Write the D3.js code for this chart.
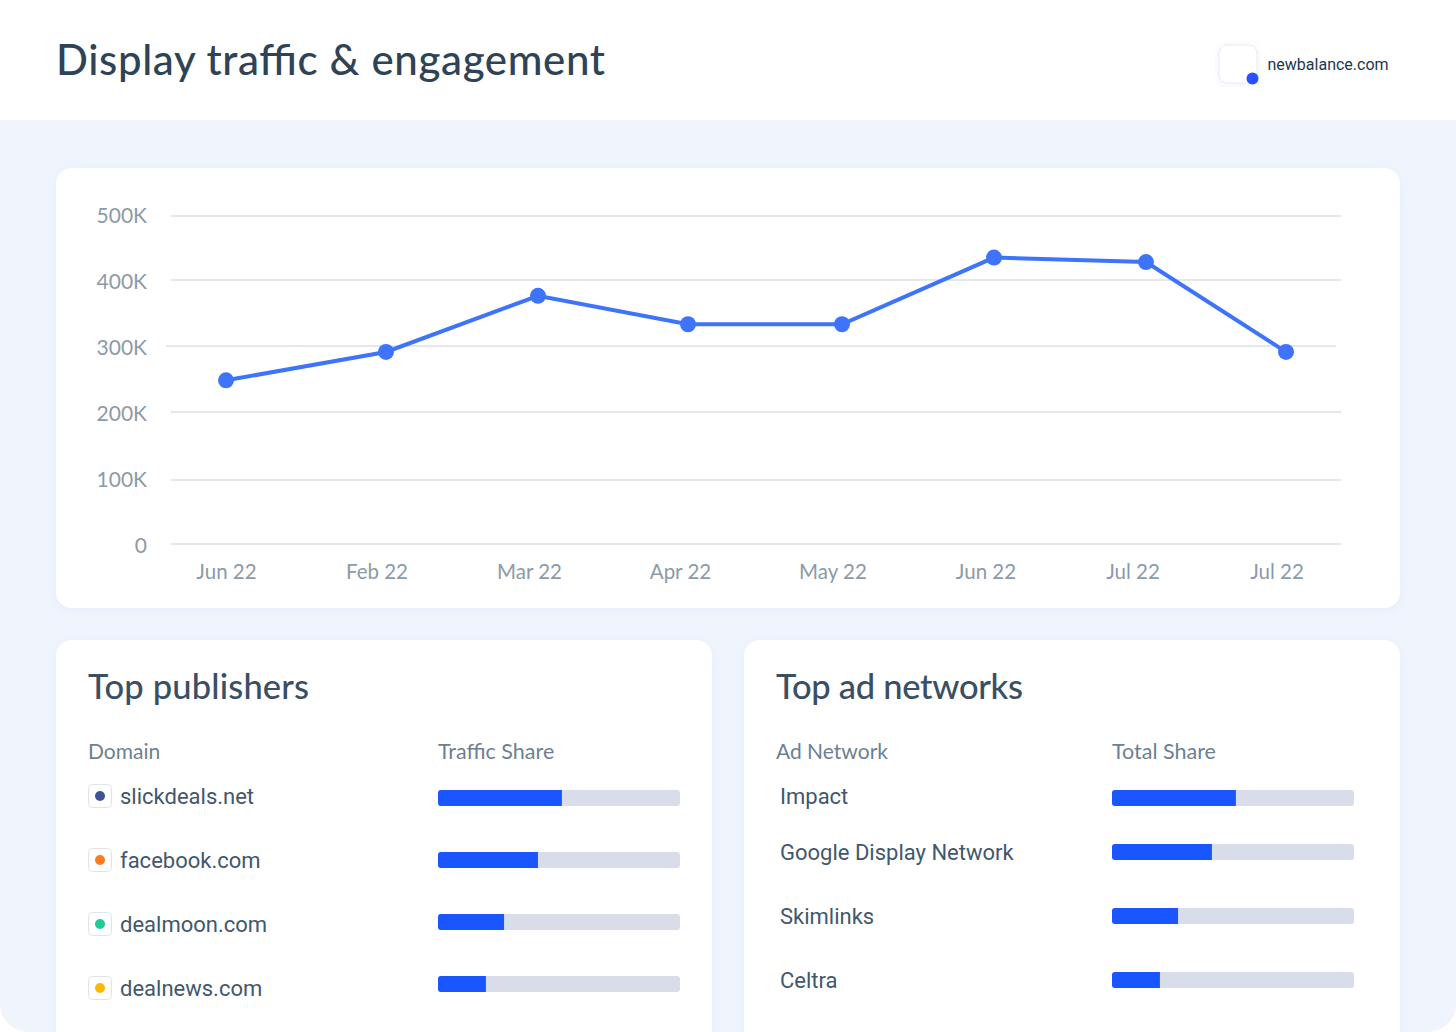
<!DOCTYPE html>
<html>
<head>
<meta charset="utf-8">
<script src="https://cdn.jsdelivr.net/npm/d3@7"></script>
<style>
  html, body { margin: 0; padding: 0; background: #fff; overflow: hidden; }
  svg { display: block; }
  text { font-family: Lato, sans-serif; }
  .body-font { font-family: Roboto, sans-serif; }
</style>
</head>
<body>
<svg id="chart" width="1456" height="1032"></svg>
<script>
const months = ['Jun 22', 'Feb 22', 'Mar 22', 'Apr 22', 'May 22', 'Jun 22', 'Jul 22', 'Jul 22'];
const visits = [248000, 291000, 376000, 333000, 333000, 435000, 428000, 291000];
const yTicks = [0, 100000, 200000, 300000, 400000, 500000];
const yTickLabels = ['0', '100K', '200K', '300K', '400K', '500K'];

const publishers = ['slickdeals.net', 'facebook.com', 'dealmoon.com', 'dealnews.com'];
const publisherShare = [51.2, 41.3, 27.3, 19.8];
const publisherDots = ['#3f5496', '#ff7a20', '#1fcb97', '#ffb703'];

const networks = ['Impact', 'Google Display Network', 'Skimlinks', 'Celtra'];
const networkShare = [51.2, 41.3, 27.3, 19.8];

const svg = d3.select('#chart');

const textDark = '#2f4356';
const textPanel = '#3a4f63';
const textBody = '#42576d';
const textMuted = '#6d7f92';
const tickGrey = '#8c9aa8';
const blue = '#3d74fb';
const barBlue = '#1a56ff';

const defs = svg.append('defs');
const shadow = defs.append('filter').attr('id', 'soft')
  .attr('x', '-10%').attr('y', '-10%').attr('width', '120%').attr('height', '120%');
shadow.append('feDropShadow').attr('dx', 0).attr('dy', 2).attr('stdDeviation', 7)
  .attr('flood-color', '#c9d6f2').attr('flood-opacity', 0.3);

// page background
svg.append('rect').attr('width', 1456).attr('height', 1032).attr('fill', '#fff');
svg.append('path')
  .attr('d', 'M0,120H1456V1004A28,28 0 0 1 1428,1032H28A28,28 0 0 1 0,1004Z')
  .attr('fill', '#f0f5fd');

// header
svg.append('text').attr('x', 56).attr('y', 75)
  .attr('font-size', 42).attr('font-weight', 500).attr('fill', textDark)
  .attr('textLength', 549)
  .text('Display traffic & engagement');

svg.append('rect').attr('x', 1219).attr('y', 45).attr('width', 38).attr('height', 38).attr('rx', 8)
  .attr('fill', '#fff').attr('stroke', '#e8ebf1').attr('stroke-width', 1)
  .attr('filter', 'url(#soft)');
svg.append('circle').attr('cx', 1252.5).attr('cy', 78.5).attr('r', 6).attr('fill', '#2b50ff');
svg.append('text').attr('class', 'body-font').attr('x', 1267.5).attr('y', 70)
  .attr('font-size', 16).attr('fill', '#22374f').text('newbalance.com');

// cards
svg.append('g').selectAll('rect')
  .data([[56, 168, 1344, 440], [56, 640, 656, 420], [744, 640, 656, 420]])
  .join('rect')
  .attr('x', d => d[0]).attr('y', d => d[1])
  .attr('width', d => d[2]).attr('height', d => d[3])
  .attr('rx', 16).attr('fill', '#fff').attr('filter', 'url(#soft)');

// line chart: the source axis is slightly uneven, so each tick gets its own stop
const y = d3.scaleLinear().domain(yTicks).range([544, 480, 412, 346, 280, 216]);
const yLabel = d3.scaleLinear().domain([0, 500000]).range([545, 215]);
const x = d3.scaleLinear().domain(d3.range(months.length))
  .range([226, 386, 538, 688, 842, 994, 1146, 1286]);
const xLabel = d3.scaleLinear().domain(d3.range(months.length))
  .range([226.5, 377, 529.5, 680.5, 833, 986, 1133, 1277]);

svg.append('g').selectAll('line').data(yTicks).join('line')
  .attr('x1', d => d === 300000 ? 166 : 171)
  .attr('x2', d => d === 300000 ? 1336 : 1341)
  .attr('y1', d => y(d)).attr('y2', d => y(d))
  .attr('stroke', '#e4e8ed').attr('stroke-width', 2);

svg.append('g').selectAll('text').data(yTicks).join('text')
  .attr('x', 147).attr('y', d => yLabel(d) + 7.5)
  .attr('text-anchor', 'end').attr('font-size', 21).attr('fill', tickGrey)
  .text((d, i) => yTickLabels[i]);

svg.append('g').selectAll('text').data(months).join('text')
  .attr('x', (d, i) => xLabel(i)).attr('y', 578.5)
  .attr('text-anchor', 'middle').attr('font-size', 20.5).attr('fill', tickGrey)
  .text(d => d);

const line = d3.line().x((d, i) => x(i)).y(d => y(d));
svg.append('path').datum(visits).attr('d', line)
  .attr('fill', 'none').attr('stroke', blue).attr('stroke-width', 4);
svg.append('g').selectAll('circle').data(visits).join('circle')
  .attr('cx', (d, i) => x(i)).attr('cy', d => y(d)).attr('r', 8).attr('fill', blue);

// bottom panels
function panel(opts) {
  const g = svg.append('g');
  g.append('text').attr('x', opts.left).attr('y', 699)
    .attr('font-size', 34.5).attr('font-weight', 500).attr('fill', textPanel)
    .attr('textLength', opts.titleLen)
    .text(opts.title);
  g.append('text').attr('x', opts.left).attr('y', 758.5)
    .attr('font-size', 21).attr('fill', textMuted).text(opts.col1);
  g.append('text').attr('x', opts.barX).attr('y', 758.5)
    .attr('font-size', 21.5).attr('fill', textMuted).text(opts.col2);

  const w = d3.scaleLinear().domain([0, 100]).range([0, 242]);

  g.append('g').selectAll('rect').data(opts.share).join('rect')
    .attr('x', opts.barX).attr('y', (d, i) => opts.barY[i])
    .attr('width', w(100)).attr('height', 16).attr('rx', 3).attr('fill', '#d9dde9');
  g.append('g').selectAll('path').data(opts.share).join('path')
    .attr('d', (d, i) => `M${opts.barX + 3},${opts.barY[i]}H${opts.barX + w(d)}v16H${opts.barX + 3}a3,3 0 0 1 -3,-3v-10a3,3 0 0 1 3,-3Z`)
    .attr('fill', barBlue);

  g.append('g').selectAll('text').data(opts.names).join('text')
    .attr('class', 'body-font')
    .attr('x', opts.nameX).attr('y', (d, i) => opts.nameY[i])
    .attr('font-size', 22).attr('fill', textBody)
    .text(d => d);
}

panel({
  title: 'Top publishers', titleLen: 221, col1: 'Domain', col2: 'Traffic Share',
  left: 88, barX: 438, nameX: 120,
  names: publishers, share: publisherShare,
  nameY: [804, 868, 932, 996], barY: [790, 852, 914, 976]
});

panel({
  title: 'Top ad networks', titleLen: 247, col1: 'Ad Network', col2: 'Total Share',
  left: 776, barX: 1112, nameX: 780,
  names: networks, share: networkShare,
  nameY: [804, 860, 924, 988], barY: [790, 844, 908, 972]
});

// publisher icons
const iconY = d3.scaleLinear().domain([0, 3]).range([796, 988]);
const icons = svg.append('g').selectAll('g').data(publisherDots).join('g')
  .attr('transform', (d, i) => `translate(100,${iconY(i)})`);
icons.append('rect').attr('x', -11.5).attr('y', -11.5).attr('width', 23).attr('height', 23).attr('rx', 4)
  .attr('fill', '#fff').attr('stroke', '#e0e3e9').attr('stroke-width', 1);
icons.append('circle').attr('r', 5).attr('fill', d => d);
</script>
</body>
</html>
